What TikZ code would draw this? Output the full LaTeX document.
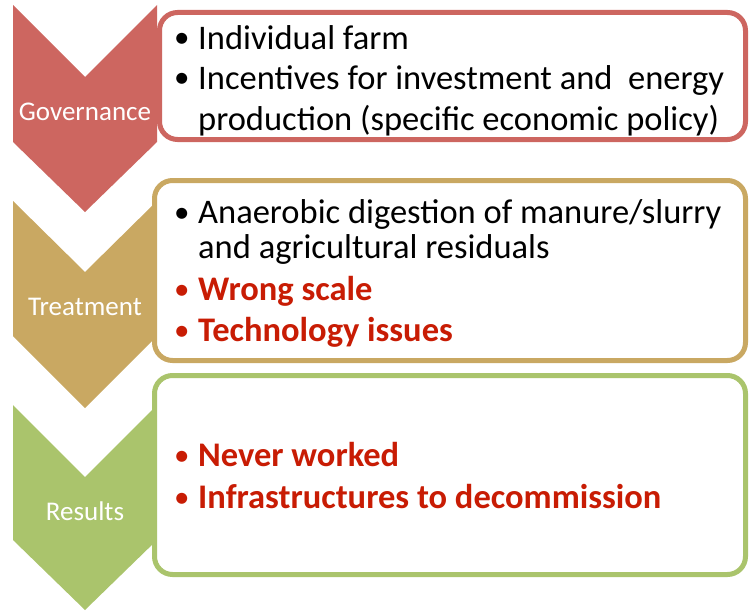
\documentclass[tikz,border=0pt]{standalone}
\usepackage{fontspec}
\setmainfont{Carlito}
\definecolor{cgov}{RGB}{205,102,96}
\definecolor{ctreat}{RGB}{201,168,98}
\definecolor{cres}{RGB}{170,196,108}
\definecolor{cwarn}{RGB}{200,28,4}
\begin{document}
\begin{tikzpicture}[x=1pt,y=-1pt,
  tbox/.style={line width=5pt,fill=white,rounded corners=18pt},
  lbl/.style={text=white,font=\fontsize{27}{30}\selectfont,anchor=base},
  itm/.style={anchor=base west,inner sep=0pt,font=\fontsize{34.5}{40}\selectfont},
  bul/.style={anchor=base west,inner sep=0pt,font=\fontsize{31}{40}\selectfont},
  warn/.style={itm,text=cwarn,font=\fontsize{34.5}{40}\selectfont\bfseries}]
\useasboundingbox (0,0) rectangle (749,610);
% chevrons
\fill[cgov] (13,5) -- (85,77) -- (157,5) -- (157,142) -- (85,212) -- (13,142) -- cycle;
\fill[ctreat] (13,201) -- (85,272) -- (157,201) -- (157,336) -- (85,408) -- (13,336) -- cycle;
\fill[cres] (13,405) -- (85,477) -- (157,405) -- (157,540) -- (85,610) -- (13,540) -- cycle;
\node[lbl] (gov) at (85,120) {Governance};
\node[lbl] (treat) at (85,315) {Treatment};
\node[lbl] (res) at (85,520) {Results};
% boxes
\draw[tbox,draw=cgov] (159.5,12.5) rectangle (745.5,139.5);
\draw[tbox,draw=ctreat] (154.5,180.5) rectangle (745.5,360.5);
\draw[tbox,draw=cres] (154.5,375.5) rectangle (745.5,574.5);
% box 1
\node[bul] (b1) at (174,48) {•};
\node[itm] (t1) at (198,49) {Individual farm};
\node[bul] (b2) at (174,88) {•};
\node[itm] (t2) at (198,89) {Incentives for investment and\ \ energy};
\node[itm] (t3) at (198,130) {production (specific economic policy)};
% box 2
\node[bul] (b3) at (174,222) {•};
\node[itm] (t4) at (198,223) {Anaerobic digestion of manure/slurry};
\node[itm] (t5) at (198,258) {and agricultural residuals};
\node[bul,text=cwarn] (b4) at (174,299) {•};
\node[warn] (t6) at (198,300) {Wrong scale};
\node[bul,text=cwarn] (b5) at (174,340) {•};
\node[warn] (t7) at (198,341) {Technology issues};
% box 3
\node[bul,text=cwarn] (b6) at (174,465) {•};
\node[warn] (t8) at (198,466) {Never worked};
\node[bul,text=cwarn] (b7) at (174,507) {•};
\node[warn] (t9) at (198,508) {Infrastructures to decommission};
\end{tikzpicture}
\end{document}
